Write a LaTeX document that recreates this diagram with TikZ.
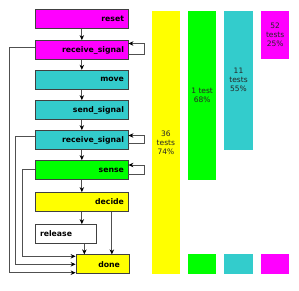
\documentclass[tikz,border=0pt]{standalone}
\usepackage{fontspec}
\setmainfont{DejaVu Sans}
\usetikzlibrary{arrows.meta}
\definecolor{mag}{HTML}{FF00FF}
\definecolor{cya}{HTML}{33CCCC}
\definecolor{grn}{HTML}{00FF00}
\definecolor{yel}{HTML}{FFFF00}
\definecolor{bord}{HTML}{404040}
\definecolor{conn}{HTML}{505050}
\tikzset{
  box/.style={draw=bord, line width=0.8pt, minimum height=19pt, inner ysep=0pt,
    font=\fontsize{7.75}{9}\selectfont\bfseries},
  mainbox/.style={box, text width=84.3pt, inner xsep=4pt, align=right},
  arr/.style={draw=conn, line width=0.8pt, -{Stealth[length=5pt,width=4.5pt,black]}},
  bar/.style={draw=none},
  bartext/.style={font=\fontsize{7.5}{9}\selectfont, align=center, text=black!85}
}
\begin{document}
\begin{tikzpicture}[x=1pt,y=-1pt]
\useasboundingbox (0,0) rectangle (299,290);
% main column
\node[mainbox, fill=mag] (reset) at (81.85,19) {reset};
\node[mainbox, fill=mag] (rs1) at (81.85,50) {receive\_signal};
\node[mainbox, fill=cya] (move) at (81.85,79.7) {move};
\node[mainbox, fill=cya] (send) at (81.85,110) {send\_signal};
\node[mainbox, fill=cya] (rs2) at (81.85,140) {receive\_signal};
\node[mainbox, fill=grn] (sense) at (81.85,170) {sense};
\node[mainbox, fill=yel] (decide) at (81.85,202) {decide};
\node[box, fill=white, text width=51.7pt, inner xsep=5pt, align=left] (release) at (65.85,234) {release};
\node[box, fill=yel, text width=34.7pt, inner xsep=9.3pt, align=right] (done) at (102.65,264.3) {done};
% vertical arrows
\draw[arr] (reset) -- (rs1);
\draw[arr] (rs1) -- (move);
\draw[arr] (move) -- (send);
\draw[arr] (send) -- (rs2);
\draw[arr] (rs2) -- (sense);
\draw[arr] (sense) -- (decide);
\draw[arr] (decide.south) -- (decide.south |- release.north);
\draw[arr] ([xshift=18.5pt]release.south) -- ([xshift=18.5pt]release.south |- done.north);
\draw[arr] ([xshift=30pt]decide.south) -- ([xshift=30pt]decide.south |- done.north);
% self loops
\draw[arr] ([yshift=-4pt]rs1.east) -- ++(15.5,0) |- ([yshift=6.5pt]rs1.east);
\draw[arr] ([yshift=-3pt]rs2.east) -- ++(15.5,0) |- ([yshift=4.5pt]rs2.east);
\draw[arr] ([yshift=-4.3pt]sense.east) -- ++(15.5,0) |- ([yshift=5pt]sense.east);
% left lines
\draw[arr] ([yshift=3pt]rs1.west) -- ++(-26.4,0) |- ([yshift=-8.4pt]done.west);
\draw[arr] ([yshift=3.3pt]rs2.west) -- ++(-19.7,0) |- (done.west);
\draw[arr] ([yshift=0.7pt]sense.west) -- ++(-13,0) |- ([yshift=8pt]done.west);
% bars
\fill[yel] (151.7,11) rectangle (180,274.3);
\fill[grn] (188,11) rectangle (216.3,179.7);
\fill[grn] (188,254.3) rectangle (216.3,274.3);
\fill[cya] (224.3,11) rectangle (252.7,149.7);
\fill[cya] (224.3,254.3) rectangle (252.7,274.3);
\fill[mag] (261,11) rectangle (289.3,59);
\fill[mag] (261,254.3) rectangle (289.3,274.3);
\node[bartext] (t1) at (165.85,142.5) {36\\tests\\74\%};
\node[bartext] (t2) at (202.15,95.3) {1 test\\68\%};
\node[bartext] (t3) at (238.5,80.3) {11\\tests\\55\%};
\node[bartext] (t4) at (275.15,34.5) {52\\tests\\25\%};
\end{tikzpicture}
\end{document}
